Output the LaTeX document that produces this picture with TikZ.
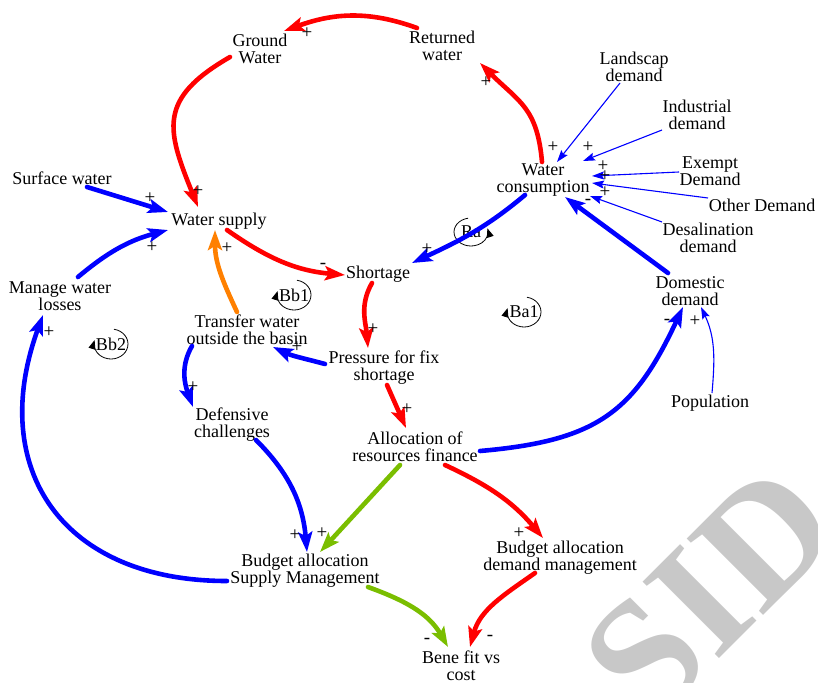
\documentclass[tikz,border=0pt]{standalone}
\usepackage{fontspec}
\setmainfont{Liberation Serif}
\usetikzlibrary{arrows.meta}
\definecolor{cred}{RGB}{255,0,0}
\definecolor{cblue}{RGB}{0,0,255}
\definecolor{corange}{RGB}{255,128,0}
\definecolor{cgreen}{RGB}{122,190,0}
\definecolor{cmark}{RGB}{200,200,200}
\tikzset{
  lbl/.style={font=\fontsize{18}{17}\selectfont, align=center, inner sep=0pt},
  sgn/.style={font=\fontsize{19}{19}\selectfont, inner sep=0pt},
  boldlink/.style={line width=4.6pt, line cap=round, -{Stealth[length=20pt,width=14pt,inset=4pt]}},
  thinlink/.style={line width=1.1pt, cblue, -{Stealth[length=12pt,width=8pt,inset=2pt]}},
  loopc/.style={line width=0.8pt, -{Triangle[length=9pt,width=7pt]}},
  looplbl/.style={font=\fontsize{18}{18}\selectfont, inner sep=0pt},
}
\begin{document}
\begin{tikzpicture}[x=1pt,y=1pt]
\useasboundingbox (0,0) rectangle (818,-682);
% watermark
\begin{scope}
\clip (0,0) rectangle (818,-682);
\node[text=cmark, font=\fontsize{165}{165}\bfseries, rotate=45, inner sep=0pt] (wm) at (710,-592) {SID};
\end{scope}
% nodes
\node[lbl] (gw) at (260,-49) {Ground\\Water};
\node[lbl] (rw) at (442,-46) {Returned\\water};
\node[lbl] (ld) at (634,-67) {Landscap\\demand};
\node[lbl] (id) at (697,-115) {Industrial\\demand};
\node[lbl] (ed) at (710,-171) {Exempt\\Demand};
\node[lbl] (od) at (762,-205) {Other Demand};
\node[lbl] (dsd) at (708,-238) {Desalination\\demand};
\node[lbl] (wc) at (543,-180) {Water\\consumption};
\node[lbl] (sw) at (62,-178) {Surface water};
\node[lbl] (ws) at (219,-221) {Water supply};
\node[lbl] (sh) at (378,-274) {Shortage};
\node[lbl] (mwl) at (60,-296) {Manage water\\losses};
\node[lbl] (tr) at (247,-330) {Transfer water\\outside the basin};
\node[lbl] (pr) at (384,-368) {Pressure for fix\\shortage};
\node[lbl] (dc) at (232,-425) {Defensive\\challenges};
\node[lbl] (al) at (415,-447) {Allocation of\\resources finance};
\node[lbl] (dd) at (690,-291) {Domestic\\demand};
\node[lbl] (pop) at (710,-403) {Population};
\node[lbl] (bs) at (305,-571) {Budget allocation\\Supply Management};
\node[lbl] (bd) at (560,-558) {Budget allocation\\demand management};
\node[lbl] (bf) at (461,-666) {Bene fit vs\\cost};
% loop markers
\node[looplbl] (ra) at (471,-232) {Ra};
\node[looplbl] (bb1) at (294,-295) {Bb1};
\node[looplbl] (ba1) at (524,-312) {Ba1};
\node[looplbl] (bb2) at (111,-344) {Bb2};
\draw[loopc] ([shift={(100:17 and 14)}]ra.center) arc[start angle=100,end angle=375,x radius=17,y radius=14];
\draw[loopc] ([shift={(80:17 and 15)}]bb1.center) arc[start angle=80,end angle=-195,x radius=17,y radius=15];
\draw[loopc] ([shift={(80:17 and 15)}]ba1.center) arc[start angle=80,end angle=-195,x radius=17,y radius=15];
\draw[loopc] ([shift={(80:17 and 15)}]bb2.center) arc[start angle=80,end angle=-195,x radius=17,y radius=15];
% red links
\draw[boldlink, cred] ([shift={(-25,18)}]rw.center) to[out=160,in=20] ([shift={(24,18)}]gw.center);
\draw[boldlink, cred] ([shift={(-30,-8)}]gw.center) to[out=210,in=112,looseness=1.4] ([shift={(-21,14)}]ws.center);
\draw[boldlink, cred] ([shift={(-1,18)}]wc.center) to[out=95,in=-45,looseness=1.2] ([shift={(38,-17)}]rw.center);
\draw[boldlink, cred] ([shift={(8,-9)}]ws.center) to[out=-35,in=175] ([shift={(-33,-1)}]sh.center);
\draw[boldlink, cred] ([shift={(-6,-9)}]sh.center) to[out=240,in=95] ([shift={(-16,20)}]pr.center);
\draw[boldlink, cred] ([shift={(3,-17)}]pr.center) -- ([shift={(-9,19)}]al.center);
\draw[boldlink, cred] ([shift={(30,-18)}]al.center) to[out=-25,in=130] ([shift={(-17,20)}]bd.center);
\draw[boldlink, cred] ([shift={(-25,-15)}]bd.center) to[out=215,in=75] ([shift={(9,19)}]bf.center);
% green links
\draw[boldlink, cgreen] ([shift={(63,-16)}]bs.center) to[out=-20,in=120] ([shift={(-13,19)}]bf.center);
\draw[boldlink, cgreen] ([shift={(-15,-18)}]al.center) -- ([shift={(15,19)}]bs.center);
% orange link
\draw[boldlink, corange] ([shift={(-10,18)}]tr.center) to[out=115,in=270] ([shift={(-4,-9)}]ws.center);
% blue bold links
\draw[boldlink, cblue] ([shift={(24,-15)}]dc.center) to[out=-45,in=95] ([shift={(2,19)}]bs.center);
\draw[boldlink, cblue] ([shift={(-78,-10)}]bs.center) to[out=180,in=250,looseness=1.3] ([shift={(-17,-19)}]mwl.center);
\draw[boldlink, cblue] ([shift={(18,19)}]mwl.center) to[out=40,in=195] ([shift={(-51,-9)}]ws.center);
\draw[boldlink, cblue] ([shift={(25,-9)}]sw.center) -- ([shift={(-51,9)}]ws.center);
\draw[boldlink, cblue] ([shift={(-59,4)}]pr.center) to[out=165,in=-25] ([shift={(26,-17)}]tr.center);
\draw[boldlink, cblue] ([shift={(-55,-16)}]tr.center) to[out=240,in=110] ([shift={(-39,18)}]dc.center);
\draw[boldlink, cblue] ([shift={(-18,-15)}]wc.center) to[out=220,in=25] ([shift={(34,11)}]sh.center);
\draw[boldlink, cblue] ([shift={(-22,18)}]dd.center) -- ([shift={(22,-17)}]wc.center);
\draw[boldlink, cblue] ([shift={(65,-4)}]al.center) to[out=5,in=245,looseness=1.2] ([shift={(-7,-16)}]dd.center);
% thin links
\draw[thinlink] ([shift={(-14,-16)}]ld.center) -- ([shift={(14,18)}]wc.center);
\draw[thinlink] ([shift={(-35,-15)}]id.center) -- ([shift={(40,19)}]wc.center);
\draw[thinlink] ([shift={(-31,-1)}]ed.center) -- ([shift={(49,4)}]wc.center);
\draw[thinlink] ([shift={(-54,7)}]od.center) -- ([shift={(49,-3)}]wc.center);
\draw[thinlink] ([shift={(-46,16)}]dsd.center) -- ([shift={(47,-16)}]wc.center);
\draw[thinlink] ([shift={(2,10)}]pop.center) to[out=85,in=-65] ([shift={(11,-16)}]dd.center);
% polarity signs
\foreach \x/\y/\s [count=\i] in {307/33/+, 486/82/+, 198/191/+, 150/198/+, 152/247/+, 227/248/+,
  323/266/-, 427/249/+, 373/329/+, 297/347/+, 193/387/+, 407/409/+, 49/332/+, 295/535/+,
  322/533/+, 519/533/+, 427/641/-, 490/638/-, 667/322/-, 695/321/+, 553/147/+, 588/147/+,
  603/166/+, 605/176/+, 605/192/+, 588/202/-}
  \node[sgn] (s\i) at (\x,-\y) {\s};
\end{tikzpicture}
\end{document}
